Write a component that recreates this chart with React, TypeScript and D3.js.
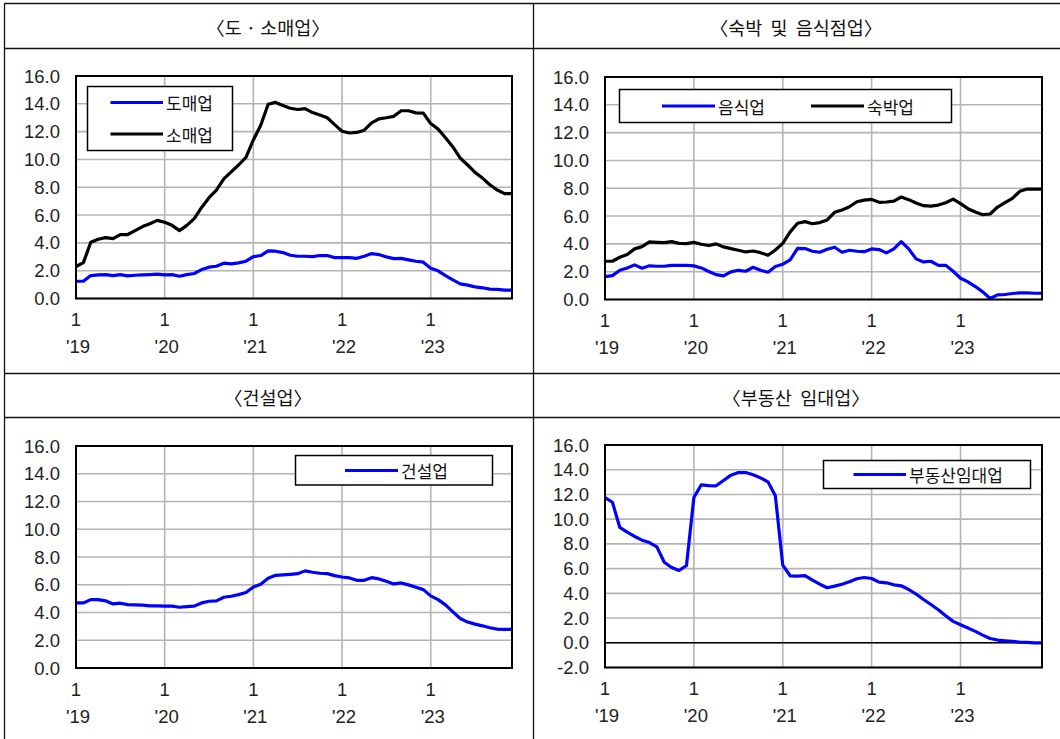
import React from "react";
import * as d3 from "d3";

// x categories: months Jan 2019 .. Dec 2023 (index 0..59); ticks at each January
const yearStartIndex = [0, 12, 24, 36, 48];
const monthTickLabels = ["1", "1", "1", "1", "1"];
const yearTickLabels = ["'19", "'20", "'21", "'22", "'23"];
const yTicksMain = [0, 2, 4, 6, 8, 10, 12, 14, 16];
const yTicksRent = [-2, 0, 2, 4, 6, 8, 10, 12, 14, 16];

const panelTitles = [
  "〈도 · 소매업〉",
  "〈숙박\u00a0\u00a0및\u00a0\u00a0음식점업〉",
  "〈건설업〉",
  "〈부동산\u00a0\u00a0임대업〉",
];

// 도매업
const wholesale = [
  1.24, 1.24, 1.65, 1.7, 1.72, 1.65, 1.72, 1.63, 1.67, 1.7, 1.72, 1.75,
  1.7, 1.72, 1.6, 1.72, 1.8, 2.08, 2.25, 2.32, 2.54, 2.49, 2.56, 2.68,
  3.01, 3.09, 3.42, 3.4, 3.3, 3.11, 3.04, 3.04, 3.01, 3.09, 3.09, 2.94,
  2.94, 2.94, 2.89, 3.04, 3.23, 3.16, 2.99, 2.87, 2.89, 2.78, 2.68, 2.61,
  2.18, 1.99, 1.65, 1.34, 1.05, 0.96, 0.84, 0.77, 0.67, 0.65, 0.6, 0.6,
];
// 소매업
const retail = [
  2.3, 2.58, 4.04, 4.26, 4.38, 4.3, 4.6, 4.6, 4.88, 5.17, 5.38, 5.62,
  5.48, 5.26, 4.88, 5.26, 5.74, 6.55, 7.25, 7.8, 8.6, 9.1, 9.6, 10.14,
  11.4, 12.46, 13.97, 14.1, 13.88, 13.68, 13.59, 13.66, 13.37, 13.2, 13.0, 12.5,
  12.03, 11.9, 11.94, 12.1, 12.63, 12.92, 13.0, 13.1, 13.5, 13.5, 13.35, 13.33,
  12.58, 12.18, 11.56, 10.9, 10.1, 9.6, 9.07, 8.66, 8.18, 7.8, 7.54, 7.54,
];
// 음식업
const restaurant = [
  1.65, 1.72, 2.1, 2.27, 2.49, 2.25, 2.42, 2.39, 2.39, 2.46, 2.46, 2.46,
  2.42, 2.27, 2.01, 1.79, 1.7, 1.99, 2.1, 2.03, 2.32, 2.1, 1.96, 2.37,
  2.54, 2.85, 3.68, 3.66, 3.47, 3.4, 3.61, 3.76, 3.4, 3.54, 3.47, 3.44,
  3.64, 3.59, 3.35, 3.64, 4.16, 3.64, 2.92, 2.7, 2.75, 2.46, 2.46, 2.03,
  1.53, 1.27, 0.93, 0.55, 0.07, 0.33, 0.36, 0.43, 0.48, 0.48, 0.45, 0.45,
];
// 숙박업
const lodging = [
  2.75, 2.75, 3.04, 3.23, 3.64, 3.8, 4.14, 4.11, 4.09, 4.16, 4.04, 4.02,
  4.11, 3.97, 3.88, 4.0, 3.78, 3.66, 3.54, 3.42, 3.49, 3.37, 3.18, 3.56,
  4.04, 4.86, 5.48, 5.6, 5.45, 5.53, 5.72, 6.27, 6.44, 6.67, 7.03, 7.15,
  7.2, 6.99, 7.01, 7.08, 7.37, 7.18, 6.94, 6.75, 6.72, 6.79, 6.96, 7.22,
  6.89, 6.53, 6.29, 6.1, 6.15, 6.65, 6.96, 7.27, 7.78, 7.94, 7.94, 7.94,
];
// 건설업
const construction = [
  4.69, 4.69, 4.93, 4.93, 4.84, 4.62, 4.67, 4.57, 4.55, 4.53, 4.48, 4.48,
  4.46, 4.46, 4.38, 4.43, 4.46, 4.69, 4.81, 4.84, 5.1, 5.17, 5.29, 5.44,
  5.84, 6.04, 6.47, 6.68, 6.71, 6.75, 6.8, 7.0, 6.9, 6.83, 6.8, 6.66,
  6.56, 6.49, 6.32, 6.32, 6.51, 6.42, 6.25, 6.06, 6.13, 5.99, 5.82, 5.65,
  5.2, 4.93, 4.55, 4.05, 3.57, 3.31, 3.16, 3.04, 2.9, 2.8, 2.78, 2.78,
];
// 부동산임대업
const realEstate = [
  11.75, 11.37, 9.33, 8.95, 8.6, 8.3, 8.11, 7.76, 6.52, 6.09, 5.85, 6.25,
  11.75, 12.78, 12.72, 12.7, 13.13, 13.56, 13.77, 13.77, 13.6, 13.34, 13.02, 11.89,
  6.28, 5.42, 5.39, 5.44, 5.07, 4.74, 4.45, 4.58, 4.74, 4.93, 5.18, 5.28,
  5.2, 4.91, 4.85, 4.69, 4.61, 4.31, 3.94, 3.5, 3.1, 2.67, 2.18, 1.73,
  1.46, 1.19, 0.92, 0.62, 0.35, 0.22, 0.16, 0.11, 0.05, 0.03, 0.0, 0.0,
];

const BLUE = "#0000ff";
const BLACK = "#000000";
const GRID = "#b4b4b4";
const NUM_FONT = "'Liberation Sans', Arial, sans-serif";
const KO_FONT = "'Noto Sans CJK KR', 'Noto Sans', sans-serif";

type Series = { name: string; values: number[]; color: string };
type LegendItem = { x1: number; x2: number; tx: number; ty: number };
type Panel = {
  title: string;
  titleX: number;
  titleY: number;
  plot: { left: number; right: number; top: number; bottom: number };
  yDomain: [number, number];
  yTicks: number[];
  series: Series[];
  legendBox: { x: number; y: number; w: number; h: number };
  legendItems: LegendItem[];
  zeroLine?: boolean;
};

const panels: Panel[] = [
  {
    title: panelTitles[0],
    titleX: 268,
    titleY: 27,
    plot: { left: 76, right: 512, top: 76, bottom: 298.5 },
    yDomain: [0, 16],
    yTicks: yTicksMain,
    series: [
      { name: "도매업", values: wholesale, color: BLUE },
      { name: "소매업", values: retail, color: BLACK },
    ],
    legendBox: { x: 87.5, y: 86.5, w: 145, h: 64 },
    legendItems: [
      { x1: 110.5, x2: 163, tx: 166, ty: 102.5 },
      { x1: 110.5, x2: 163, tx: 166, ty: 134 },
    ],
  },
  {
    title: panelTitles[1],
    titleX: 796,
    titleY: 27,
    plot: { left: 605, right: 1042, top: 77, bottom: 299.5 },
    yDomain: [0, 16],
    yTicks: yTicksMain,
    series: [
      { name: "음식업", values: restaurant, color: BLUE },
      { name: "숙박업", values: lodging, color: BLACK },
    ],
    legendBox: { x: 619.5, y: 89.5, w: 332, h: 33 },
    legendItems: [
      { x1: 662, x2: 715, tx: 718, ty: 106 },
      { x1: 811, x2: 864, tx: 867, ty: 106 },
    ],
  },
  {
    title: panelTitles[2],
    titleX: 268,
    titleY: 396.5,
    plot: { left: 76, right: 512, top: 446, bottom: 668 },
    yDomain: [0, 16],
    yTicks: yTicksMain,
    series: [{ name: "건설업", values: construction, color: BLUE }],
    legendBox: { x: 295.5, y: 455.5, w: 197, h: 29.5 },
    legendItems: [{ x1: 345, x2: 398, tx: 401, ty: 470.5 }],
  },
  {
    title: panelTitles[3],
    titleX: 796,
    titleY: 396.5,
    plot: { left: 605, right: 1042, top: 445, bottom: 667.5 },
    yDomain: [-2, 16],
    yTicks: yTicksRent,
    series: [{ name: "부동산임대업", values: realEstate, color: BLUE }],
    legendBox: { x: 823.5, y: 460.5, w: 207, h: 28 },
    legendItems: [{ x1: 853.5, x2: 906, tx: 909, ty: 474.5 }],
    zeroLine: true,
  },
];

function ChartPanel({ p }: { p: Panel }) {
  const n = p.series[0].values.length;
  const x = d3.scaleLinear().domain([0, n - 1]).range([p.plot.left, p.plot.right]);
  const y = d3.scaleLinear().domain(p.yDomain).range([p.plot.bottom, p.plot.top]);
  const line = d3
    .line<number>()
    .x((_, i) => x(i))
    .y((d) => y(d));
  return (
    <g>
      <text
        x={p.titleX}
        y={p.titleY}
        textAnchor="middle"
        dominantBaseline="central"
        fontFamily={KO_FONT}
        fontSize={18.5}
        fill="#111"
      >
        {p.title}
      </text>
      {/* horizontal grid */}
      {p.yTicks.map((t) => (
        <line key={"h" + t} x1={p.plot.left} x2={p.plot.right} y1={y(t)} y2={y(t)} stroke={GRID} strokeWidth={1.6} />
      ))}
      {/* vertical grid */}
      {yearStartIndex.map((m) => (
        <line key={"v" + m} x1={x(m)} x2={x(m)} y1={p.plot.top} y2={p.plot.bottom} stroke={GRID} strokeWidth={1.6} />
      ))}
      {p.zeroLine && (
        <line x1={p.plot.left} x2={p.plot.right} y1={y(0)} y2={y(0)} stroke="#000" strokeWidth={1.5} />
      )}
      {/* y tick labels */}
      {p.yTicks.map((t) => (
        <text
          key={"yl" + t}
          x={p.plot.left - 16}
          y={y(t)}
          textAnchor="end"
          dominantBaseline="central"
          fontFamily={NUM_FONT}
          fontSize={18.5}
          fill="#222"
        >
          {t < 0 ? "-" + d3.format(".1f")(-t) : d3.format(".1f")(t)}
        </text>
      ))}
      {/* x tick labels */}
      {yearStartIndex.map((m, i) => (
        <g key={"xl" + m}>
          <text
            x={x(m)}
            y={p.plot.bottom + 21}
            textAnchor="middle"
            dominantBaseline="central"
            fontFamily={NUM_FONT}
            fontSize={18.5}
            fill="#222"
          >
            {monthTickLabels[i]}
          </text>
          <text
            x={x(m) + 2}
            y={p.plot.bottom + 48}
            textAnchor="middle"
            dominantBaseline="central"
            fontFamily={NUM_FONT}
            fontSize={18.5}
            fill="#222"
          >
            {yearTickLabels[i]}
          </text>
        </g>
      ))}
      {/* series */}
      {p.series.map((s) => (
        <path
          key={s.name}
          d={line(s.values) || ""}
          fill="none"
          stroke={s.color}
          strokeWidth={3.2}
          strokeLinejoin="round"
        />
      ))}
      {/* frame */}
      <rect
        x={p.plot.left}
        y={p.plot.top}
        width={p.plot.right - p.plot.left}
        height={p.plot.bottom - p.plot.top}
        fill="none"
        stroke="#000"
        strokeWidth={2}
      />
      {/* legend */}
      <rect
        x={p.legendBox.x}
        y={p.legendBox.y}
        width={p.legendBox.w}
        height={p.legendBox.h}
        fill="#fff"
        stroke="#000"
        strokeWidth={1.5}
      />
      {p.legendItems.map((li, i) => (
        <g key={"lg" + i}>
          <line x1={li.x1} x2={li.x2} y1={li.ty} y2={li.ty} stroke={p.series[i].color} strokeWidth={3.2} />
          <text
            x={li.tx}
            y={li.ty}
            dominantBaseline="central"
            fontFamily={KO_FONT}
            fontSize={17}
            fill="#111"
          >
            {p.series[i].name}
          </text>
        </g>
      ))}
    </g>
  );
}

export default function App() {
  return (
    <svg
      width={1060}
      height={739}
      viewBox="0 0 1060 739"
      style={{ position: "absolute", left: 0, top: 0, background: "#fff" }}
    >
      <rect x={0} y={0} width={1060} height={739} fill="#fff" />
      {/* table borders */}
      <g stroke="#111" strokeWidth={1.3} fill="none">
        <line x1={4.5} x2={1062} y1={3.5} y2={3.5} />
        <line x1={4.5} x2={4.5} y1={3.5} y2={739} />
        <line x1={533.5} x2={533.5} y1={3.5} y2={739} />
        <line x1={4.5} x2={1062} y1={48.5} y2={48.5} />
        <line x1={4.5} x2={1062} y1={373.5} y2={373.5} />
        <line x1={4.5} x2={1062} y1={417.5} y2={417.5} />
      </g>
      {panels.map((p, i) => (
        <ChartPanel key={i} p={p} />
      ))}
    </svg>
  );
}
